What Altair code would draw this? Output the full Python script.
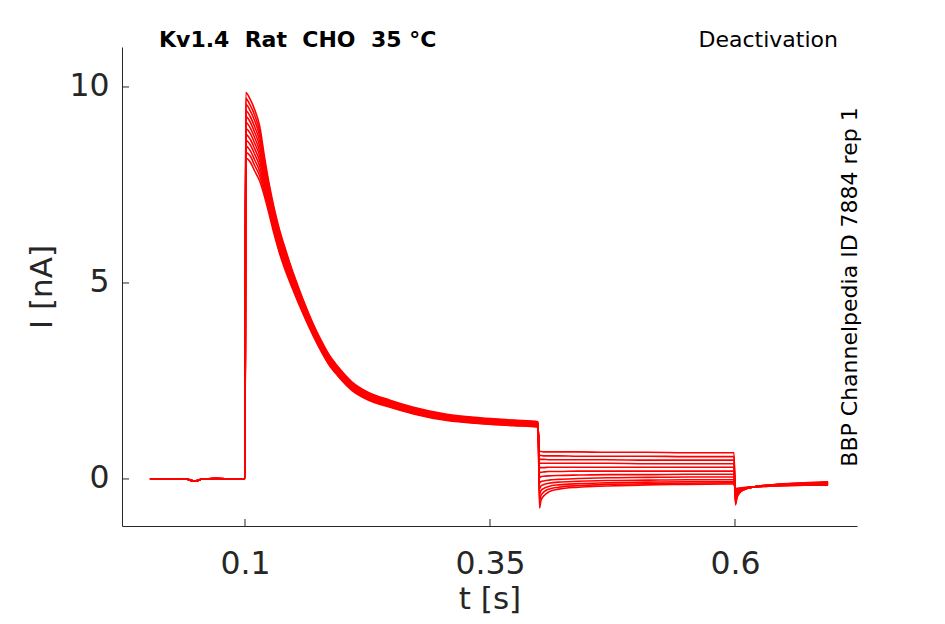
import altair as alt
import pandas as pd

# ---- data (time in s, current in nA) ----
N_TRACES = 12

# holding period before the step (shared by all sweeps)
PRE_T = [0.003, 0.02, 0.04, 0.044, 0.048, 0.052, 0.056, 0.07, 0.09, 0.1]
PRE_I = [0.0, 0.0, 0.0, -0.03, -0.05, -0.04, 0.0, 0.01, 0.0, 0.0]

# activating step: one row per time point, 12 sweeps per row
ACT_T = [0.1008, 0.105, 0.110, 0.115, 0.120, 0.125, 0.130, 0.135, 0.140, 0.145,
         0.150, 0.155, 0.160, 0.170, 0.178, 0.185, 0.195, 0.209, 0.225, 0.248,
         0.272, 0.306, 0.340, 0.374, 0.399]
ACT_I = [
    [8.18, 8.33, 8.49, 8.64, 8.79, 8.94, 9.10, 9.25, 9.40, 9.56, 9.71, 9.86],
    [8.10, 8.25, 8.39, 8.54, 8.68, 8.83, 8.97, 9.12, 9.26, 9.41, 9.55, 9.70],
    [7.85, 7.99, 8.13, 8.28, 8.42, 8.56, 8.70, 8.84, 8.98, 9.13, 9.27, 9.41],
    [7.60, 7.73, 7.85, 7.98, 8.11, 8.24, 8.36, 8.49, 8.62, 8.75, 8.87, 9.00],
    [7.20, 7.29, 7.38, 7.47, 7.56, 7.65, 7.75, 7.84, 7.93, 8.02, 8.11, 8.20],
    [6.72, 6.79, 6.86, 6.93, 7.00, 7.07, 7.13, 7.20, 7.27, 7.34, 7.41, 7.48],
    [6.22, 6.28, 6.34, 6.40, 6.46, 6.52, 6.58, 6.64, 6.70, 6.76, 6.82, 6.88],
    [5.78, 5.83, 5.89, 5.94, 6.00, 6.05, 6.11, 6.16, 6.22, 6.27, 6.33, 6.38],
    [5.40, 5.45, 5.50, 5.55, 5.60, 5.65, 5.71, 5.76, 5.81, 5.86, 5.91, 5.96],
    [5.07, 5.12, 5.16, 5.21, 5.25, 5.30, 5.34, 5.39, 5.43, 5.48, 5.52, 5.57],
    [4.76, 4.80, 4.84, 4.88, 4.92, 4.96, 5.00, 5.04, 5.08, 5.12, 5.16, 5.20],
    [4.46, 4.50, 4.53, 4.57, 4.61, 4.64, 4.68, 4.71, 4.75, 4.79, 4.82, 4.86],
    [4.17, 4.20, 4.24, 4.27, 4.30, 4.33, 4.37, 4.40, 4.43, 4.46, 4.50, 4.53],
    [3.63, 3.66, 3.68, 3.71, 3.74, 3.77, 3.79, 3.82, 3.85, 3.88, 3.90, 3.93],
    [3.24, 3.27, 3.29, 3.32, 3.34, 3.37, 3.39, 3.42, 3.44, 3.47, 3.49, 3.52],
    [2.94, 2.96, 2.99, 3.01, 3.03, 3.06, 3.08, 3.11, 3.13, 3.15, 3.18, 3.20],
    [2.62, 2.64, 2.66, 2.69, 2.71, 2.73, 2.75, 2.77, 2.79, 2.82, 2.84, 2.86],
    [2.26, 2.28, 2.30, 2.32, 2.34, 2.36, 2.38, 2.40, 2.42, 2.44, 2.46, 2.48],
    [2.02, 2.04, 2.06, 2.07, 2.09, 2.11, 2.13, 2.15, 2.17, 2.18, 2.20, 2.22],
    [1.83, 1.85, 1.86, 1.88, 1.90, 1.91, 1.93, 1.94, 1.96, 1.98, 1.99, 2.01],
    [1.66, 1.67, 1.69, 1.70, 1.72, 1.73, 1.75, 1.76, 1.78, 1.79, 1.81, 1.83],
    [1.49, 1.51, 1.52, 1.53, 1.55, 1.56, 1.58, 1.59, 1.61, 1.62, 1.63, 1.65],
    [1.41, 1.42, 1.43, 1.45, 1.46, 1.47, 1.49, 1.50, 1.51, 1.53, 1.54, 1.56],
    [1.36, 1.37, 1.39, 1.40, 1.41, 1.42, 1.44, 1.45, 1.46, 1.47, 1.49, 1.50],
    [1.32, 1.33, 1.35, 1.36, 1.37, 1.38, 1.40, 1.41, 1.42, 1.43, 1.45, 1.46],
]

# deactivation step: one row per sweep
DEACT_T = [0.4005, 0.402, 0.405, 0.41, 0.42, 0.44, 0.47, 0.51, 0.55, 0.599]
DEACT_I = [
    [0.70, 0.70, 0.69, 0.69, 0.69, 0.69, 0.68, 0.68, 0.67, 0.67],
    [0.60, 0.60, 0.59, 0.59, 0.59, 0.58, 0.58, 0.58, 0.57, 0.57],
    [0.50, 0.50, 0.50, 0.49, 0.49, 0.49, 0.49, 0.48, 0.48, 0.48],
    [0.40, 0.40, 0.40, 0.40, 0.40, 0.40, 0.40, 0.39, 0.39, 0.39],
    [0.28, 0.29, 0.29, 0.30, 0.30, 0.30, 0.30, 0.30, 0.30, 0.30],
    [0.16, 0.17, 0.18, 0.19, 0.19, 0.20, 0.20, 0.20, 0.20, 0.20],
    [0.04, 0.06, 0.07, 0.08, 0.09, 0.10, 0.11, 0.11, 0.12, 0.12],
    [-0.10, -0.07, -0.05, -0.03, -0.01, 0.01, 0.03, 0.04, 0.05, 0.05],
    [-0.25, -0.18, -0.14, -0.11, -0.08, -0.06, -0.04, -0.03, -0.02, -0.02],
    [-0.40, -0.30, -0.24, -0.19, -0.15, -0.12, -0.10, -0.08, -0.07, -0.07],
    [-0.56, -0.42, -0.33, -0.26, -0.21, -0.17, -0.14, -0.12, -0.11, -0.10],
    [-0.74, -0.55, -0.43, -0.33, -0.26, -0.21, -0.18, -0.15, -0.14, -0.13],
]

# return to holding potential: one row per sweep
TAIL_T = [0.6005, 0.602, 0.605, 0.61, 0.62, 0.64, 0.67, 0.695]
TAIL_I = [
    [-0.66, -0.48, -0.35, -0.27, -0.20, -0.14, -0.10, -0.07],
    [-0.63, -0.46, -0.34, -0.26, -0.20, -0.15, -0.11, -0.08],
    [-0.60, -0.44, -0.33, -0.26, -0.20, -0.15, -0.11, -0.09],
    [-0.56, -0.42, -0.32, -0.25, -0.20, -0.15, -0.12, -0.10],
    [-0.52, -0.40, -0.31, -0.25, -0.20, -0.16, -0.12, -0.10],
    [-0.48, -0.38, -0.30, -0.25, -0.20, -0.16, -0.13, -0.11],
    [-0.44, -0.35, -0.29, -0.24, -0.20, -0.16, -0.13, -0.12],
    [-0.40, -0.33, -0.28, -0.24, -0.20, -0.17, -0.14, -0.13],
    [-0.36, -0.31, -0.27, -0.23, -0.20, -0.17, -0.15, -0.14],
    [-0.32, -0.29, -0.26, -0.23, -0.20, -0.17, -0.15, -0.14],
    [-0.28, -0.26, -0.24, -0.22, -0.20, -0.18, -0.16, -0.15],
    [-0.25, -0.24, -0.23, -0.22, -0.20, -0.18, -0.16, -0.16],
]

X_TICKS = [0.1, 0.35, 0.6]
Y_TICKS = [0, 5, 10]
X_DOMAIN = [-0.0255, 0.7245]
Y_DOMAIN = [-1.2, 11.02]

TITLE = "Kv1.4 \u00a0Rat \u00a0CHO \u00a035 \u00b0C"
PROTOCOL = "Deactivation"
SOURCE = "BBP Channelpedia ID 7884 rep 1"

# ---- build long table ----
records = []
for k in range(N_TRACES):
    ts = PRE_T + ACT_T + DEACT_T + TAIL_T
    vs = PRE_I + [row[k] for row in ACT_I] + DEACT_I[k] + TAIL_I[k]
    for i, (t, v) in enumerate(zip(ts, vs)):
        records.append({"trace": k, "order": i, "t": t, "I": v})
df = pd.DataFrame(records)

AX = "#262626"
FONT = "DejaVu Sans"
xscale = alt.Scale(domain=X_DOMAIN, nice=False, zero=False)
yscale = alt.Scale(domain=Y_DOMAIN, nice=False, zero=False)

xaxis = alt.Axis(
    values=X_TICKS, format=".2~f", title="t [s]", ticks=False, grid=False,
    domainColor=AX, domainWidth=1, labelFont=FONT, labelFontSize=31.5,
    labelColor=AX, labelBaseline="alphabetic", labelPadding=47,
    labelFlush=False, labelOverlap=False, titleFont=FONT, titleFontSize=31,
    titleFontWeight="normal", titleColor=AX, titleY=89,
    titleBaseline="bottom")
yaxis = alt.Axis(
    values=Y_TICKS, format="d", title="I [nA]", ticks=False, grid=False,
    domainColor=AX, domainWidth=1, labelFont=FONT, labelFontSize=31.5,
    labelColor=AX, labelPadding=13, labelFlush=False, labelOverlap=False,
    titleFont=FONT, titleFontSize=31, titleFontWeight="normal",
    titleColor=AX, titleAngle=270, titleX=-71, titleY=239.5,
    titleAlign="center", titleBaseline="alphabetic")

X = alt.X("t:Q", scale=xscale, axis=xaxis, title="t [s]")
Y = alt.Y("I:Q", scale=yscale, axis=yaxis, title="I [nA]")

lines = alt.Chart(df).mark_line(
    color="#ff0000", strokeWidth=1.6, interpolate="monotone").encode(
    x=X, y=Y, detail="trace:N", order="order:Q")

# inward tick marks (MATLAB style)
ytick = alt.Chart(pd.DataFrame({"I": Y_TICKS})).mark_rule(color=AX, strokeWidth=1).encode(
    y=Y, x=alt.value(0), x2=alt.value(7))
xtick = alt.Chart(pd.DataFrame({"t": X_TICKS})).mark_rule(color=AX, strokeWidth=1).encode(
    x=X, y=alt.value(479), y2=alt.value(472))

title_txt = alt.Chart(pd.DataFrame({"label": [TITLE]})).mark_text(
    align="left", baseline="alphabetic", font=FONT, fontSize=22,
    fontWeight="bold", color="black").encode(
    x=alt.value(37), y=alt.value(0), text="label:N")
proto_txt = alt.Chart(pd.DataFrame({"label": [PROTOCOL]})).mark_text(
    align="right", baseline="alphabetic", font=FONT, fontSize=22,
    color="black").encode(
    x=alt.value(716), y=alt.value(0), text="label:N")
source_txt = alt.Chart(pd.DataFrame({"label": [SOURCE]})).mark_text(
    align="center", baseline="alphabetic", font=FONT, fontSize=22,
    angle=270, color="black").encode(
    x=alt.value(735), y=alt.value(240), text="label:N")

chart = alt.layer(lines, ytick, xtick, title_txt, proto_txt, source_txt).properties(
    width=735, height=479,
    autosize=alt.AutoSizeParams(type="none"),
    padding={"left": 114, "top": 39, "right": 80, "bottom": 90},
).configure_view(stroke=None)

chart.save("out.html", embed_options={"renderer": "svg", "actions": False})
